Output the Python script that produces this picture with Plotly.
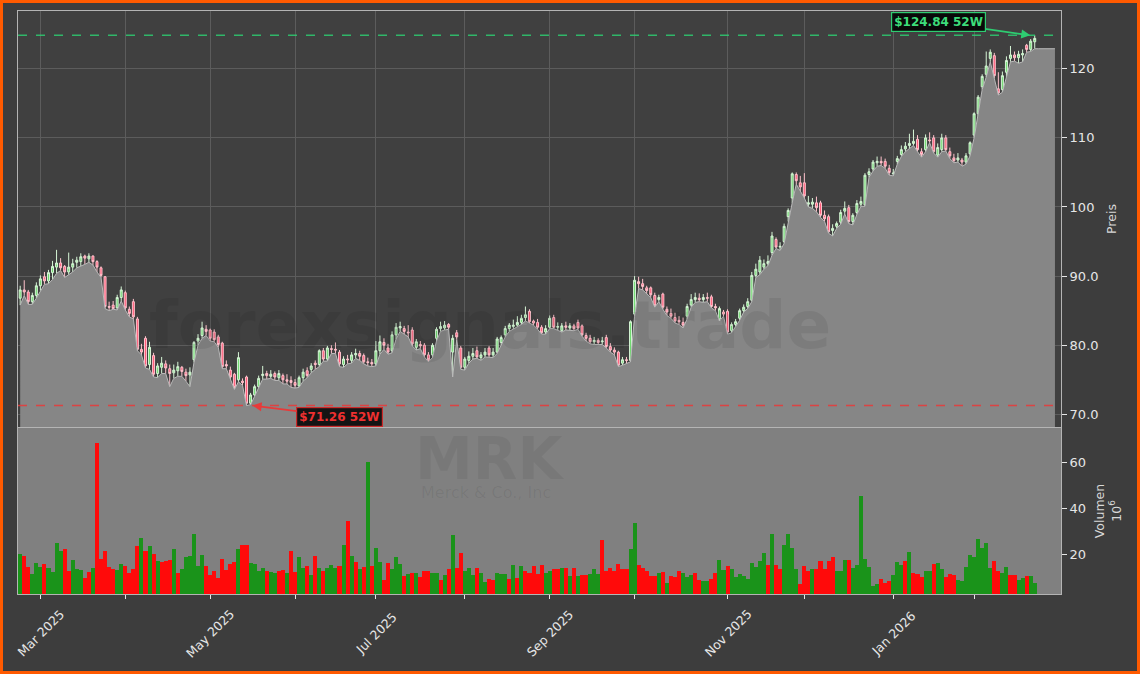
import pandas as pd
import plotly.graph_objects as go
from plotly.subplots import make_subplots

# ---------------- data ----------------
holidays = ["2025-04-18", "2025-05-26", "2025-06-19", "2025-07-04", "2025-09-01",
            "2025-11-27", "2025-12-25", "2026-01-01", "2026-01-19", "2026-02-16"]
start_date = "2025-02-24"
end_date = "2026-02-24"

opens = [86.8, 88.0, 87.7, 86.3, 87.2, 88.6, 89.9, 89.3, 90.5, 91.3,
         91.9, 91.4, 90.6, 91.3, 92.0, 92.1, 92.9, 92.5, 92.9, 92.1,
         91.2, 89.9, 85.6, 85.8, 85.4, 86.9, 87.6, 85.2, 86.3, 83.8,
         79.4, 81.0, 77.2, 78.5, 75.9, 76.8, 77.3, 76.6, 76.0, 76.3,
         76.8, 76.1, 75.7, 77.9, 80.6, 81.4, 82.3, 82.2, 81.9, 81.2,
         80.3, 77.2, 76.4, 75.8, 75.0, 74.8, 75.4, 71.6, 72.8, 74.0,
         75.6, 75.9, 75.5, 75.9, 75.3, 75.6, 75.0, 74.9, 74.6, 74.1,
         75.3, 76.3, 76.5, 77.4, 77.2, 79.2, 78.0, 79.5, 79.4, 79.0,
         77.2, 78.0, 77.8, 78.6, 78.8, 78.5, 77.6, 77.5, 77.3, 79.2,
         80.4, 79.6, 79.2, 81.5, 82.5, 82.4, 81.9, 82.2, 79.7, 80.1,
         80.0, 78.6, 78.6, 81.0, 82.4, 82.5, 83.0, 79.0, 81.8, 79.6,
         76.8, 77.8, 78.4, 79.2, 78.2, 78.6, 79.6, 78.6, 79.0, 80.4,
         81.5, 82.4, 82.7, 82.9, 83.3, 84.0, 84.9, 83.5, 83.3, 82.6,
         81.9, 82.6, 84.0, 82.6, 82.1, 82.8, 82.5, 82.8, 83.3, 82.8,
         81.4, 81.0, 80.5, 80.7, 80.5, 81.1, 79.8, 79.3, 79.0, 77.4,
         77.9, 77.8, 84.5, 89.2, 88.9, 88.3, 88.3, 87.2, 86.6, 87.4,
         85.2, 84.6, 84.0, 83.6, 83.3, 84.2, 85.8, 86.6, 86.8, 86.6,
         86.9, 87.0, 85.6, 83.8, 84.8, 84.9, 82.1, 83.0, 83.9, 85.0,
         85.6, 86.5, 90.1, 90.6, 91.3, 91.8, 93.4, 95.3, 94.2, 95.0,
         98.6, 101.3, 104.7, 103.5, 103.5, 100.4, 100.4, 100.6, 100.6, 98.8,
         98.6, 96.6, 97.2, 97.8, 99.4, 99.9, 97.9, 99.2, 100.4, 100.3,
         104.7, 105.5, 106.4, 106.6, 106.6, 105.6, 104.8, 106.6, 107.6, 108.4,
         108.9, 109.2, 109.8, 108.0, 108.3, 109.7, 110.0, 107.5, 108.3, 110.0,
         108.0, 107.1, 106.8, 106.8, 106.5, 107.7, 110.4, 113.5, 117.4, 119.2,
         121.5, 121.9, 117.1, 117.0, 119.5, 121.5, 122.0, 121.6, 122.0, 123.4,
         122.8, 123.9]

highs = [88.6, 89.4, 88.0, 87.6, 89.1, 90.1, 90.6, 90.9, 92.2, 93.8,
         92.6, 91.6, 93.4, 92.5, 92.8, 93.3, 93.1, 93.3, 93.0, 92.3,
         91.4, 90.0, 86.3, 86.4, 87.3, 88.5, 87.9, 85.6, 86.7, 84.1,
         80.2, 81.3, 80.5, 78.9, 77.4, 78.3, 77.8, 77.2, 77.2, 77.6,
         77.0, 76.6, 76.8, 80.6, 81.6, 83.4, 82.9, 82.4, 82.3, 81.5,
         80.5, 77.8, 76.9, 76.0, 79.0, 75.2, 75.6, 73.1, 74.3, 75.6,
         77.0, 76.3, 76.4, 76.2, 76.4, 75.9, 75.8, 75.5, 75.1, 75.6,
         76.6, 76.8, 77.4, 77.8, 79.4, 79.6, 79.9, 80.0, 80.4, 79.3,
         78.4, 78.6, 79.0, 79.5, 79.2, 78.8, 78.2, 78.0, 80.6, 81.4,
         81.0, 80.2, 82.0, 83.2, 83.4, 82.8, 82.9, 82.6, 80.9, 80.6,
         80.3, 79.0, 80.3, 82.6, 83.4, 83.5, 83.2, 81.5, 82.2, 79.9,
         78.3, 79.1, 79.6, 79.8, 79.0, 79.6, 79.9, 79.6, 81.2, 81.4,
         82.8, 83.2, 83.7, 84.2, 84.4, 85.6, 85.2, 83.7, 83.8, 82.9,
         82.9, 84.3, 84.4, 83.3, 83.2, 83.4, 83.2, 83.1, 83.7, 83.0,
         81.8, 81.5, 81.2, 81.0, 81.2, 81.5, 80.3, 79.7, 79.2, 78.3,
         78.3, 83.6, 90.0, 89.9, 89.6, 88.6, 88.5, 87.6, 87.3, 87.6,
         85.6, 85.3, 84.7, 84.2, 84.0, 86.0, 87.4, 87.6, 87.5, 87.4,
         87.6, 87.3, 86.0, 85.6, 85.1, 85.2, 83.3, 83.8, 85.3, 85.9,
         86.8, 90.6, 91.8, 92.9, 92.4, 93.0, 96.4, 95.6, 94.9, 97.6,
         99.8, 105.0, 105.0, 104.5, 104.9, 101.6, 101.3, 101.5, 100.9, 99.5,
         98.9, 97.5, 97.9, 99.6, 100.8, 100.3, 99.1, 101.0, 101.5, 104.9,
         105.6, 106.8, 107.3, 107.3, 107.0, 106.1, 105.5, 107.4, 108.9, 109.4,
         110.6, 111.2, 110.4, 108.5, 110.5, 110.8, 110.4, 109.2, 110.6, 110.4,
         108.6, 107.7, 107.8, 107.1, 107.8, 109.5, 113.7, 116.2, 119.2, 122.5,
         122.8, 122.3, 119.5, 119.6, 121.8, 123.3, 122.5, 122.6, 122.8, 123.6,
         124.3, 124.84]

lows = [85.8, 87.2, 85.9, 85.9, 86.8, 87.9, 88.8, 88.9, 89.5, 90.4,
        90.8, 89.8, 90.2, 90.6, 91.2, 91.4, 91.7, 92.0, 91.6, 90.6,
        89.8, 85.3, 85.0, 85.2, 85.1, 86.4, 85.1, 84.1, 83.8, 79.2,
        78.6, 76.7, 76.5, 75.4, 75.3, 75.9, 75.9, 74.0, 75.2, 75.5,
        75.5, 74.8, 74.0, 77.5, 80.0, 81.0, 81.4, 80.6, 80.5, 79.7,
        76.6, 76.6, 75.1, 73.6, 74.7, 74.2, 71.26, 71.4, 72.6, 73.8,
        75.1, 75.1, 75.2, 74.9, 74.9, 74.4, 74.4, 73.9, 73.8, 73.9,
        74.8, 75.3, 76.0, 76.5, 76.9, 77.7, 77.7, 78.8, 78.8, 76.9,
        76.8, 77.3, 77.4, 78.1, 77.8, 77.3, 77.0, 76.9, 77.0, 78.7,
        79.4, 78.7, 78.9, 80.9, 82.0, 81.6, 81.2, 79.9, 79.3, 79.5,
        78.3, 77.6, 78.2, 80.6, 82.0, 82.2, 82.3, 75.4, 80.8, 76.5,
        76.4, 77.4, 78.0, 78.1, 77.8, 78.3, 78.3, 78.2, 78.8, 80.0,
        81.2, 82.0, 82.3, 82.6, 83.0, 83.5, 83.2, 82.9, 82.3, 81.6,
        81.6, 82.4, 82.4, 82.2, 81.9, 82.2, 82.2, 82.1, 82.3, 81.3,
        80.6, 80.2, 80.1, 80.1, 80.1, 79.6, 79.0, 78.6, 76.9, 77.1,
        77.4, 77.6, 84.2, 88.2, 88.0, 87.4, 86.9, 85.5, 86.3, 85.2,
        84.3, 83.9, 83.2, 83.0, 82.5, 83.8, 85.5, 86.2, 86.3, 86.2,
        86.3, 85.4, 85.0, 83.5, 84.2, 81.6, 81.8, 82.7, 83.6, 84.8,
        85.3, 86.3, 89.8, 90.2, 91.0, 91.5, 93.0, 94.0, 93.7, 94.7,
        97.9, 100.6, 103.3, 102.3, 101.3, 100.0, 99.8, 99.3, 98.5, 97.9,
        96.2, 95.8, 96.9, 97.5, 99.0, 97.6, 97.4, 98.9, 100.1, 100.1,
        104.3, 105.2, 105.9, 106.0, 105.6, 104.6, 104.5, 106.2, 107.3, 108.0,
        108.4, 108.9, 108.0, 107.2, 108.0, 109.3, 107.8, 107.2, 108.0, 108.1,
        107.0, 106.4, 106.5, 105.9, 106.2, 107.4, 110.0, 113.2, 117.0, 118.8,
        121.0, 118.6, 116.2, 116.6, 118.8, 121.0, 121.1, 120.8, 121.0, 122.4,
        122.5, 122.9]

closes = [88.0, 87.7, 86.3, 87.2, 88.6, 89.6, 89.3, 90.5, 91.4, 91.9,
          91.2, 90.6, 91.3, 91.8, 92.3, 92.8, 92.6, 92.9, 92.1, 91.3,
          90.1, 85.6, 85.5, 85.3, 86.9, 88.0, 85.4, 84.6, 84.1, 79.4,
          79.0, 77.0, 79.7, 75.8, 77.0, 77.4, 76.7, 75.9, 76.4, 76.9,
          76.2, 75.6, 76.1, 80.4, 81.0, 82.5, 82.0, 81.0, 80.8, 80.1,
          76.9, 77.0, 75.4, 73.9, 78.2, 74.6, 71.6, 72.8, 74.0, 75.2,
          75.8, 75.6, 75.8, 75.4, 75.9, 75.0, 74.8, 74.6, 74.2, 75.3,
          76.1, 75.6, 77.0, 77.2, 79.2, 78.0, 79.6, 79.4, 79.3, 77.3,
          78.0, 77.9, 78.6, 78.8, 78.4, 77.6, 77.5, 77.3, 79.2, 80.5,
          80.0, 79.0, 81.5, 82.6, 82.7, 82.0, 81.8, 80.2, 80.5, 79.9,
          78.6, 77.9, 80.0, 82.3, 82.7, 82.9, 82.6, 81.0, 81.2, 76.8,
          78.0, 78.4, 78.8, 78.3, 78.6, 79.0, 78.6, 79.0, 80.9, 81.1,
          82.4, 82.9, 82.9, 83.3, 83.9, 84.4, 83.4, 83.2, 82.6, 81.8,
          82.4, 83.9, 82.6, 82.7, 82.8, 82.6, 82.8, 82.4, 82.5, 81.5,
          81.0, 80.5, 80.7, 80.4, 80.6, 79.8, 79.3, 79.0, 77.1, 77.9,
          77.8, 83.4, 89.4, 88.9, 88.5, 87.9, 87.3, 85.7, 86.9, 85.5,
          84.8, 84.2, 83.5, 83.4, 82.9, 85.6, 86.6, 86.9, 86.6, 86.9,
          86.8, 85.6, 85.4, 85.3, 84.5, 81.9, 83.0, 83.4, 85.0, 85.5,
          86.3, 90.1, 91.0, 92.3, 91.8, 92.1, 95.8, 94.2, 94.3, 97.2,
          99.5, 104.8, 103.8, 102.9, 101.6, 100.6, 100.7, 99.9, 98.8, 98.3,
          96.4, 96.9, 97.6, 99.2, 99.8, 97.9, 98.8, 100.5, 100.8, 104.6,
          105.1, 106.5, 106.6, 106.4, 105.9, 105.0, 104.9, 107.0, 108.3, 108.8,
          109.2, 109.5, 108.3, 107.6, 110.0, 109.6, 108.0, 108.6, 110.0, 108.3,
          107.4, 106.7, 107.1, 106.5, 107.4, 109.3, 113.5, 115.9, 118.9, 120.4,
          122.4, 119.0, 116.5, 119.0, 121.2, 122.0, 121.6, 122.1, 122.2, 122.8,
          124.0, 124.4]

# volume in millions
volumes = [20.1, 19.3, 14.6, 11.4, 16.1, 14.6, 15.8, 13.9, 12.3, 24.8,
           21.4, 22.2, 12.7, 17.5, 13.6, 13.2, 9.8, 12.3, 13.9, 68.7,
           18.0, 21.4, 14.6, 13.7, 13.2, 15.8, 14.9, 11.7, 13.6, 23.6,
           27.1, 21.4, 23.6, 20.1, 17.1, 16.6, 17.2, 17.5, 22.3, 11.7,
           13.6, 18.7, 19.3, 28.9, 14.9, 19.7, 14.9, 11.0, 12.7, 9.8,
           18.1, 13.2, 15.8, 16.6, 22.3, 24.0, 24.3, 16.1, 15.8, 12.7,
           13.9, 12.7, 12.4, 11.7, 12.9, 13.2, 11.7, 21.4, 12.3, 18.7,
           13.9, 14.9, 11.0, 19.3, 13.9, 12.7, 13.9, 15.2, 13.9, 14.9,
           24.3, 34.5, 19.3, 16.6, 13.7, 14.6, 60.3, 14.9, 22.6, 16.8,
           8.8, 16.3, 13.4, 19.0, 15.6, 10.5, 11.4, 11.7, 12.0, 10.2,
           12.7, 12.7, 11.7, 12.0, 8.8, 11.0, 13.4, 28.4, 13.9, 20.4,
           12.7, 13.9, 11.0, 13.9, 11.7, 8.0, 9.1, 8.8, 11.7, 11.3,
           11.4, 9.2, 15.2, 9.7, 14.9, 12.7, 11.7, 14.9, 11.4, 15.3,
           12.0, 12.7, 13.6, 13.6, 13.9, 13.9, 10.5, 13.9, 10.5, 11.0,
           11.0, 11.4, 13.4, 11.4, 26.2, 12.7, 13.9, 12.7, 15.8, 13.4,
           13.4, 22.3, 33.9, 15.3, 14.2, 12.7, 10.5, 10.5, 11.7, 12.3,
           7.3, 10.5, 10.2, 12.7, 11.7, 10.0, 11.0, 11.7, 8.8, 8.5,
           8.5, 9.1, 11.7, 17.5, 13.2, 14.9, 13.4, 10.2, 11.4, 10.5,
           9.4, 16.1, 14.3, 17.1, 20.4, 15.3, 28.9, 15.3, 13.6, 24.0,
           28.9, 22.9, 13.6, 7.0, 14.9, 12.7, 13.6, 13.6, 17.1, 13.6,
           17.1, 19.0, 12.7, 12.7, 17.5, 17.5, 14.0, 15.2, 45.5, 18.0,
           14.6, 6.1, 7.0, 9.2, 7.6, 8.2, 11.0, 16.5, 15.3, 17.1,
           20.9, 11.7, 11.4, 10.2, 12.7, 12.7, 15.8, 16.1, 13.6, 10.2,
           11.4, 10.8, 8.8, 8.4, 14.6, 19.7, 19.0, 26.7, 22.9, 24.8,
           14.2, 17.1, 12.7, 12.0, 14.3, 11.0, 11.0, 8.8, 9.5, 10.5,
           10.5, 7.3]

# g = up day, r = down day (volume bar colour)
vol_dir = ("grrgggrggg" "grrgggrrgr" "rrrrggrrrr" "grgrgrrrgr" "ggggggrrrr"
           "rrrrgrrggg" "grggrrgrrg" "grgrgrgggr" "grgrgrgrgg" "rrgggrgrgr"
           "rrggrgrgrr" "gggrggrrgg" "grgrgrrrrr" "ggrrgrgrgr" "rgggrrrrrr"
           "rggrrrrrgr" "grrrgggrrg" "grrggrgggg" "gggggrgrrg" "gggrrrgrrr"
           "rrgggrgggg" "gggrrrgggr" "grrrggrggr" "rrgggggggg" "grrggrrggr" "gg")

# fill continuation after the last session
fill_tail = [122.9, 122.9, 122.9, 122.9, 122.9]

high_52w = 124.84
low_52w = 71.26
price_ticks = [70, 80, 90, 100, 110, 120]
price_tick_text = ["70.0", "80.0", "90.0", "100", "110", "120"]
volume_ticks = [20, 40, 60]
month_labels = ["Mar 2025", "", "May 2025", "", "Jul 2025", "", "Sep 2025", "",
                "Nov 2025", "", "Jan 2026", ""]
ticker = "MRK"
company = "Merck & Co., Inc"

# ---------------- build ----------------
cbd = pd.offsets.CustomBusinessDay(holidays=holidays)
days = pd.date_range(start_date, end_date, freq=cbd)[:len(closes)]
tail_days = pd.date_range(pd.Timestamp(end_date) + pd.Timedelta(days=1),
                          periods=len(fill_tail), freq=cbd)
dates = [d.strftime("%Y-%m-%d") for d in days]
tail_dates = [d.strftime("%Y-%m-%d") for d in tail_days]
all_dates = dates + tail_dates

s = pd.Series(days, index=days)
firsts = s.groupby([s.index.year, s.index.month]).min()
firsts = [d for d in firsts if not (d.year == 2025 and d.month == 2)]
tickvals = [d.strftime("%Y-%m-%d") for d in firsts][:len(month_labels)]

GREEN_V = "#1a931a"
RED_V = "#ff0a0a"
vol_colors = [GREEN_V if c == "g" else RED_V for c in vol_dir[:len(volumes)]]

fig = make_subplots(rows=2, cols=1, shared_xaxes=True, vertical_spacing=0.0,
                    row_heights=[0.714, 0.286])

fig.add_trace(go.Scatter(x=all_dates, y=lows + fill_tail, mode="lines",
                         line=dict(color="#b9b9b9", width=1),
                         fill="tozeroy", fillcolor="#868686",
                         hoverinfo="skip", showlegend=False), row=1, col=1)

fig.add_trace(go.Candlestick(x=dates, open=opens, high=highs, low=lows, close=closes,
                             increasing=dict(line=dict(color="#d6f5d6", width=1),
                                             fillcolor="#6ed86e"),
                             decreasing=dict(line=dict(color="#ffc2cc", width=1),
                                             fillcolor="#ff5a78"),
                             whiskerwidth=0, showlegend=False), row=1, col=1)

fig.add_trace(go.Bar(x=dates, y=volumes, marker=dict(color=vol_colors, line=dict(width=0)),
                     showlegend=False), row=2, col=1)

TXT = "#e6e6e6"
FRAME = "#b4b4b4"
GRID = "#5c5c5c"

fig.update_layout(
    width=1140, height=674,
    margin=dict(l=18, r=79, t=11, b=80),
    paper_bgcolor="#3d3d3d",
    plot_bgcolor="#404040",
    font=dict(family="DejaVu Sans", color=TXT, size=13),
    bargap=0,
    showlegend=False,
    xaxis=dict(type="category", categoryorder="array", categoryarray=all_dates,
               range=[-0.54, 257.5], rangeslider=dict(visible=False),
               tickmode="array", tickvals=tickvals,
               showticklabels=False, ticks="", showgrid=True, gridcolor=GRID, gridwidth=1,
               showline=True, mirror=True, linecolor=FRAME, linewidth=1, automargin=False),
    xaxis2=dict(type="category", categoryorder="array", categoryarray=all_dates,
                range=[-0.54, 257.5], rangeslider=dict(visible=False),
                tickmode="array", tickvals=tickvals, showticklabels=False,
                ticks="outside", ticklen=4, tickcolor=TXT, showgrid=False,
                showline=True, mirror=True, linecolor=FRAME, linewidth=1, automargin=False),
    yaxis=dict(domain=[0.2864, 1.0], side="right", range=[68.16, 128.36],
               tickmode="array", tickvals=price_ticks, ticktext=price_tick_text,
               ticks="outside", ticklen=5, tickcolor=TXT, tickfont=dict(size=13, color=TXT),
               showgrid=True, gridcolor=GRID, gridwidth=1, zeroline=False,
               showline=True, mirror=True, linecolor=FRAME, linewidth=1,
               title=dict(text="Preis", font=dict(size=12.5, color="#d8d8d8"), standoff=9),
               automargin=False),
    yaxis2=dict(domain=[0.0, 0.2847], side="right", range=[2.7, 75.2],
                tickmode="array", tickvals=volume_ticks, ticks="outside", ticklen=5, tickcolor=TXT,
                tickfont=dict(size=13, color=TXT), showgrid=False, zeroline=False,
                showline=True, mirror=True, linecolor=FRAME, linewidth=1,
                title=dict(text="Volumen<br>10<sup>6</sup>", font=dict(size=12.5, color="#d8d8d8"),
                           standoff=10),
                automargin=False),
)

# month labels (rotated, centred under the tick)
for tv, lab in zip(tickvals, month_labels):
    if lab:
        fig.add_annotation(xref="x2", yref="paper", x=tv, y=-0.067, text=lab,
                           textangle=-45, showarrow=False, xanchor="center", yanchor="middle",
                           font=dict(size=12.5, color=TXT, family="DejaVu Sans"))

# volume panel background
fig.add_shape(type="rect", xref="x2 domain", yref="y2 domain", x0=0, x1=1, y0=0, y1=1,
              fillcolor="#808080", line=dict(width=0), layer="below")

# 52-week lines
fig.add_shape(type="line", xref="x domain", yref="y", x0=0, x1=1, y0=high_52w, y1=high_52w,
              line=dict(color="rgba(46,204,113,0.85)", width=1.5, dash="dash"))
fig.add_shape(type="line", xref="x domain", yref="y", x0=0, x1=1, y0=low_52w, y1=low_52w,
              line=dict(color="rgba(235,55,55,0.85)", width=1.5, dash="dash"))

# watermarks
fig.add_annotation(xref="paper", yref="paper", x=0.4525, y=0.4614, text="<b>forexsignals.trade</b>",
                   showarrow=False, xanchor="center", yanchor="middle",
                   font=dict(size=66, color="rgba(0,0,0,0.075)", family="DejaVu Sans"))
fig.add_annotation(xref="paper", yref="paper", x=0.4525, y=0.232, text="<b>" + ticker + "</b>",
                   showarrow=False, xanchor="center", yanchor="middle",
                   font=dict(size=58, color="rgba(0,0,0,0.06)", family="DejaVu Sans"))
fig.add_annotation(xref="paper", yref="paper", x=0.449, y=0.174, text=company,
                   showarrow=False, xanchor="center", yanchor="middle",
                   font=dict(size=16, color="rgba(0,0,0,0.07)", family="DejaVu Sans"))

# 52W labels
fig.add_annotation(xref="x", yref="y", x=249.9, y=high_52w, text="<b>$124.84 52W</b>",
                   showarrow=True, arrowhead=2, arrowsize=1, arrowwidth=1.8, arrowcolor="#2ecc71",
                   ax=-92, ay=-13, font=dict(size=12, color="#3ddc7a", family="DejaVu Sans"),
                   bgcolor="rgba(0,0,0,0.85)", bordercolor="#2ecc71", borderwidth=1.2, borderpad=2)
fig.add_annotation(xref="x", yref="y", x=57.5, y=low_52w, text="<b>$71.26 52W</b>",
                   showarrow=True, arrowhead=2, arrowsize=1, arrowwidth=1.8, arrowcolor="#e83a3a",
                   ax=87, ay=11, font=dict(size=12, color="#ee3030", family="DejaVu Sans"),
                   bgcolor="rgba(0,0,0,0.85)", bordercolor="#cc2a2a", borderwidth=1.2, borderpad=2)

# orange frame around the figure
fig.add_shape(type="rect", xref="paper", yref="paper",
              x0=-0.01582, x1=1.07430, y0=-0.13465, y1=1.01630,
              line=dict(color="#ff5a00", width=3), fillcolor="rgba(0,0,0,0)", layer="above")

fig.write_html("out.html", config={"displayModeBar": False},
               post_script="document.body.style.margin='0';")
